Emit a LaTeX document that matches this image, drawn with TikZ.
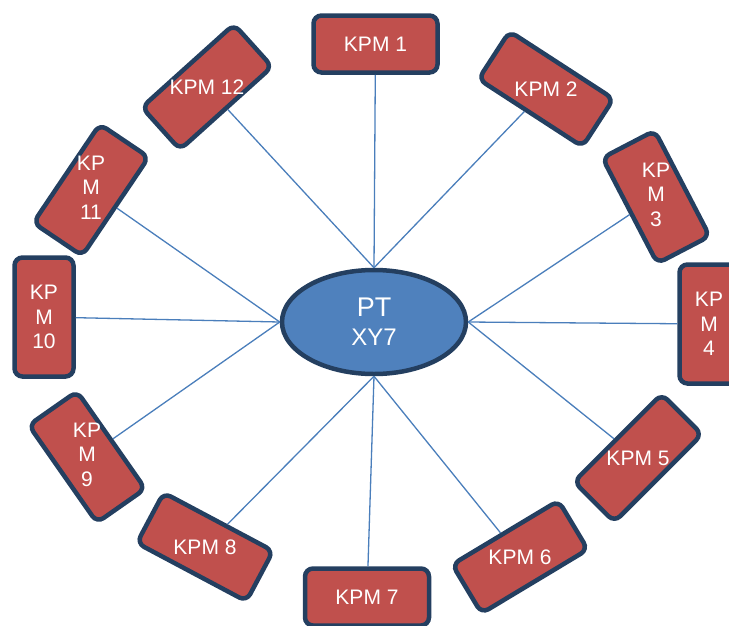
\documentclass[tikz,border=0pt]{standalone}
\usepackage{fontspec}
\setmainfont{Liberation Sans}
\usepackage{graphicx}
\usepackage{tikz}
\usetikzlibrary{shapes}

\definecolor{kpmred}{HTML}{C0504D}
\definecolor{kpmborder}{HTML}{243F60}
\definecolor{ptblue}{HTML}{4F81BD}
\definecolor{linkblue}{HTML}{4A7EBB}

% keep the text upright inside a turned box
\newsavebox{\kpmsave}
\newcommand{\kpmtext}[2]{%
  \sbox{\kpmsave}{#2}%
  \makebox[0pt]{\raisebox{\dimexpr(\dp\kpmsave-\ht\kpmsave)/2\relax}[0pt][0pt]{\rotatebox[origin=c]{#1}{\usebox{\kpmsave}}}}}
\newcommand{\kpmstack}[3]{\begin{tabular}{@{}c@{}}#1\\#2\\#3\end{tabular}}

\begin{document}
\begin{tikzpicture}[x=1pt,y=-1pt,
kpmnode/.style={rectangle, draw=kpmborder, fill=kpmred, line width=4.5pt, rounded corners=8pt, minimum width=124pt, minimum height=57pt, inner sep=0pt, text=white, font=\fontsize{21}{24.5}\selectfont},
kpmtall/.style={kpmnode, minimum width=59pt, minimum height=119pt, align=center},
ptnode/.style={ellipse, draw=kpmborder, fill=ptblue, line width=4.5pt, minimum width=184pt, minimum height=104pt, inner sep=0pt, text=white, align=center, font=\fontsize{24}{29}\selectfont},
link/.style={draw=linkblue, line width=1.3pt}
]
\useasboundingbox (0,0) rectangle (729,625);

%Nodes
\node[ptnode] at (374,322) (PT) {{\fontsize{27}{29}\selectfont PT}\\XY7};

\node[kpmnode] at (375.5,44) (KPM-1) {KPM 1};
\node[kpmnode,rotate=-33] at (546,89) (KPM-2) {\kpmtext{33}{KPM 2}};
\node[kpmtall,rotate=27.5] at (656,197) (KPM-3) {\kpmtext{-27.5}{\kpmstack{KP}{M}{3}}};
\node[kpmtall] at (709,324) (KPM-4) {KP\\M\\4};
\node[kpmnode,rotate=45] at (638,458) (KPM-5) {\kpmtext{-45}{KPM 5}};
\node[kpmnode,rotate=31] at (520,557) (KPM-6) {\kpmtext{-31}{KPM 6}};
\node[kpmnode] at (367,597) (KPM-7) {KPM 7};
\node[kpmnode,rotate=-28] at (205,547) (KPM-8) {\kpmtext{28}{KPM 8}};
\node[kpmtall,rotate=35] at (87,457) (KPM-9) {\kpmtext{-35}{\kpmstack{KP}{M}{9}}};
\node[kpmtall] at (44,317) (KPM-10) {KP\\M\\10};
\node[kpmtall,rotate=-34] at (91,190) (KPM-11) {\kpmtext{34}{\kpmstack{KP}{M}{11}}};
\node[kpmnode,rotate=42] at (207,87) (KPM-12) {\kpmtext{-42}{KPM 12}};

%Lines
\draw[link] (KPM-1) -- (PT.north);
\draw[link] (KPM-2) -- (PT.north);
\draw[link] (KPM-12) -- (PT.north);
\draw[link] (KPM-3) -- (PT.east);
\draw[link] (KPM-4) -- (PT.east);
\draw[link] (KPM-5) -- (PT.east);
\draw[link] (KPM-6) -- (PT.south);
\draw[link] (KPM-7) -- (PT.south);
\draw[link] (KPM-8) -- (PT.south);
\draw[link] (KPM-9) -- (PT.west);
\draw[link] (KPM-10) -- (PT.west);
\draw[link] (KPM-11) -- (PT.west);
\end{tikzpicture}
\end{document}
